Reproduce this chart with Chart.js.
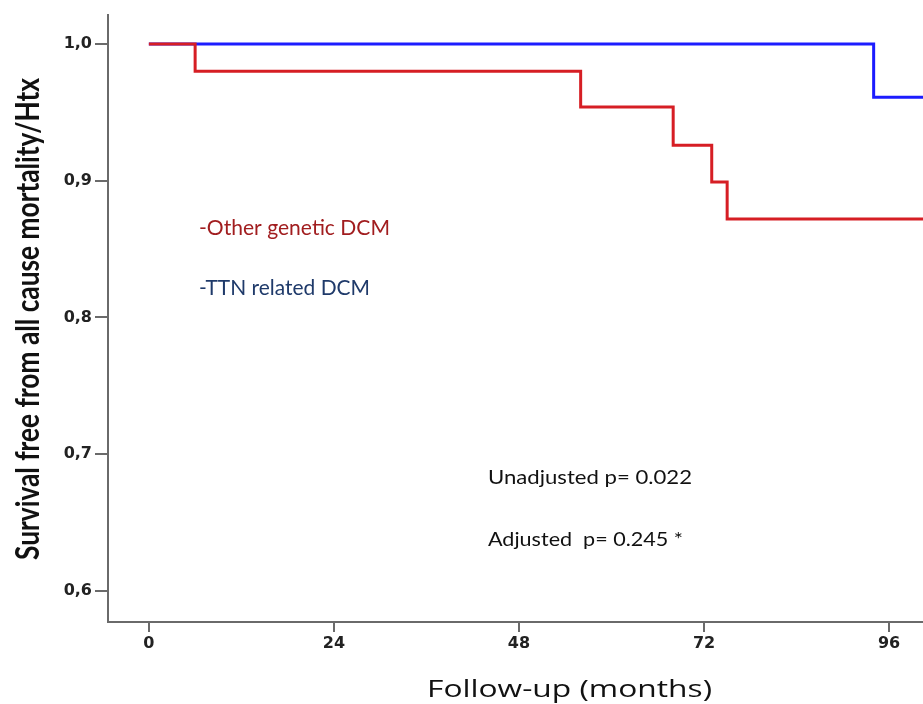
<!DOCTYPE html>
<html>
<head>
<meta charset="utf-8">
<script src="https://cdn.jsdelivr.net/npm/chart.js@4.4.1/dist/chart.umd.min.js"></script>
<style>
html,body{margin:0;padding:0;background:#fff;}
canvas{display:block;}
</style>
</head>
<body>
<canvas id="c" width="923" height="704"></canvas>
<script>
// ---- data ----
const xTicks = [0, 24, 48, 72, 96];
const yTicks = [0.6, 0.7, 0.8, 0.9, 1.0];
const otherTimes = [0, 6, 56, 68, 73, 75, 101];
const otherSurv  = [1.0, 0.98, 0.954, 0.926, 0.899, 0.872, 0.872];
const ttnTimes = [0, 94, 101];
const ttnSurv  = [1.0, 0.961, 0.961];
const seriesNames = ['-Other genetic DCM', '-TTN related DCM'];
const pTexts = ['Unadjusted p= 0.022', 'Adjusted  p= 0.245 *'];
const xTitle = 'Follow-up (months)';
const yTitle = 'Survival free from all cause mortality/Htx';

const toPts = (t, s) => t.map((v, i) => ({x: v, y: s[i]}));

function fitText(ctx, txt, x, y, w, font, color, rot) {
  ctx.save();
  ctx.font = font;
  ctx.fillStyle = color;
  ctx.textAlign = 'left';
  ctx.textBaseline = 'alphabetic';
  const m = ctx.measureText(txt).width;
  ctx.translate(x, y);
  if (rot) ctx.rotate(rot);
  ctx.scale(w / m, 1);
  ctx.fillText(txt, 0, 0);
  ctx.restore();
}

const textPlugin = {
  id: 'texts',
  afterDraw(chart) {
    const ctx = chart.ctx;
    fitText(ctx, seriesNames[0], 199, 235, 191, '22px Lato', '#a11d1f');
    fitText(ctx, seriesNames[1], 199, 295, 171, '22px Lato', '#1f3a6a');
    fitText(ctx, pTexts[0], 488, 484, 204, '20px Lato', '#111');
    fitText(ctx, pTexts[1], 488, 546, 195, '20px Lato', '#111');
    fitText(ctx, xTitle, 427, 697, 285, '23px "Open Sans"', '#111');
    fitText(ctx, yTitle, 39, 560, 482, 'bold 32px Lato', '#111', -Math.PI / 2);
  }
};

const axisColor = '#6a6a6a';

new Chart(document.getElementById('c'), {
  type: 'line',
  data: {
    datasets: [
      {
        label: seriesNames[0],
        data: toPts(otherTimes, otherSurv),
        borderColor: 'rgb(214,30,36)',
        borderWidth: 3,
        pointRadius: 0,
        stepped: 'before',
        fill: false,
        order: 0
      },
      {
        label: seriesNames[1],
        data: toPts(ttnTimes, ttnSurv),
        borderColor: 'rgb(28,28,255)',
        borderWidth: 3,
        pointRadius: 0,
        stepped: 'before',
        fill: false,
        order: 1
      }
    ]
  },
  options: {
    responsive: false,
    animation: false,
    devicePixelRatio: 1,
    layout: {padding: {top: 15, left: 0, right: 0, bottom: 0}},
    plugins: {legend: {display: false}, tooltip: {enabled: false}},
    scales: {
      x: {
        type: 'linear',
        min: -5.3,
        max: 100.4,
        afterBuildTicks(s) { s.ticks = xTicks.map(v => ({value: v})); },
        afterFit(s) { s.height = 82; },
        grid: {drawOnChartArea: false, drawTicks: true, tickLength: 10, color: axisColor, lineWidth: 2},
        border: {display: true, color: axisColor, width: 2},
        ticks: {
          autoSkip: false, maxRotation: 0, padding: 2,
          color: '#222',
          font: {family: 'DejaVu Sans', size: 16, weight: 'bold'},
          callback: v => String(v)
        }
      },
      y: {
        type: 'linear',
        min: 0.5773,
        max: 1.0212,
        afterBuildTicks(s) { s.ticks = yTicks.map(v => ({value: v})); },
        afterFit(s) { s.width = 108; },
        grid: {drawOnChartArea: false, drawTicks: true, tickLength: 13, color: axisColor, lineWidth: 2},
        border: {display: true, color: axisColor, width: 2},
        ticks: {
          autoSkip: false, padding: 3,
          color: '#222',
          font: {family: 'DejaVu Sans', size: 16, weight: 'bold'},
          callback: v => v.toFixed(1).replace('.', ',')
        }
      }
    }
  },
  plugins: [textPlugin]
});
</script>
</body>
</html>
